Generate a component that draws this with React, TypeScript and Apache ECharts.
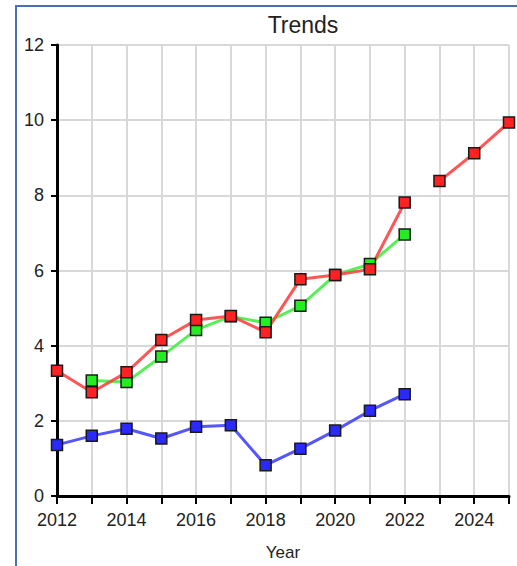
import React, { useEffect, useRef } from "react";
import * as echarts from "echarts";

const years = [2012, 2013, 2014, 2015, 2016, 2017, 2018, 2019, 2020, 2021, 2022, 2023, 2024, 2025];
const redActual = [3.33, 2.76, 3.29, 4.15, 4.68, 4.79, 4.36, 5.77, 5.88, 6.03, 7.81, null, null, null];
const redProjected = [null, null, null, null, null, null, null, null, null, null, null, 8.38, 9.12, 9.94];
const greenValues = [null, 3.07, 3.03, 3.71, 4.42, 4.78, 4.61, 5.06, 5.88, 6.17, 6.96, null, null, null];
const blueValues = [1.36, 1.6, 1.79, 1.53, 1.84, 1.88, 0.82, 1.26, 1.74, 2.27, 2.71, null, null, null];
const yTicks = [0, 2, 4, 6, 8, 10, 12];

const FONT = "'Liberation Sans', Arial, sans-serif";

function pairs(values: (number | null)[]) {
  return years.map((y, i) => [y, values[i]]).filter((p) => p[1] !== null);
}

function makeSeries(name: string, values: (number | null)[], line: string, fill: string) {
  return {
    name,
    type: "line",
    data: pairs(values),
    symbol: "rect",
    symbolSize: 11,
    lineStyle: { color: line, width: 3, opacity: 0.9 },
    itemStyle: { color: fill, borderColor: "#1a1a1a", borderWidth: 1.5 },
    emphasis: { disabled: true },
  };
}

export default function App() {
  const ref = useRef<HTMLDivElement>(null);
  useEffect(() => {
    if (!ref.current) return;
    const chart = echarts.init(ref.current, undefined, { renderer: "svg" });
    chart.setOption({
      animation: false,
      title: {
        text: "Trends",
        left: 298,
        top: 8,
        textAlign: "center",
        textStyle: { fontFamily: FONT, fontSize: 23, fontWeight: "normal", color: "#222" },
      },
      grid: { left: 57, top: 45, right: 8, bottom: 70, containLabel: false },
      xAxis: {
        type: "value",
        min: years[0],
        max: years[years.length - 1],
        interval: 1,
        name: "Year",
        nameLocation: "middle",
        nameGap: 48,
        nameTextStyle: { fontFamily: FONT, fontSize: 17, color: "#222" },
        axisLine: { show: true, lineStyle: { color: "#000", width: 3 } },
        axisTick: { show: true, length: 8, lineStyle: { color: "#000", width: 2 } },
        axisLabel: {
          fontFamily: FONT,
          fontSize: 18,
          color: "#222",
          margin: 15,
          formatter: (v: number) => (v % 2 === 0 ? String(v) : ""),
        },
        splitLine: { show: true, lineStyle: { color: "#d8d8d8", width: 2 } },
      },
      yAxis: {
        type: "value",
        min: yTicks[0],
        max: yTicks[yTicks.length - 1],
        interval: 2,
        axisLine: { show: true, lineStyle: { color: "#000", width: 3 } },
        axisTick: { show: true, length: 6, lineStyle: { color: "#000", width: 2 } },
        axisLabel: { fontFamily: FONT, fontSize: 18, color: "#222", margin: 13 },
        splitLine: { show: true, lineStyle: { color: "#d8d8d8", width: 2 } },
      },
      series: [
        makeSeries("Blue", blueValues, "#4444ff", "#2a2aff"),
        makeSeries("Green", greenValues, "#44ee44", "#22ee22"),
        makeSeries("Red", redActual, "#ff4444", "#ff2222"),
        makeSeries("Red projected", redProjected, "#ff4444", "#ff2222"),
      ],
    });
    return () => chart.dispose();
  }, []);
  return (
    <div style={{ position: "absolute", left: 0, top: 0, width: 517, height: 566, background: "#fff", overflow: "hidden" }}>
      <div
        style={{
          position: "absolute",
          left: 15,
          top: 5,
          width: 600,
          height: 600,
          borderLeft: "2px solid #4d6fb0",
          borderTop: "2px solid #4d6fb0",
        }}
      />
      <div ref={ref} style={{ position: "absolute", left: 0, top: 0, width: 517, height: 566 }} />
    </div>
  );
}
